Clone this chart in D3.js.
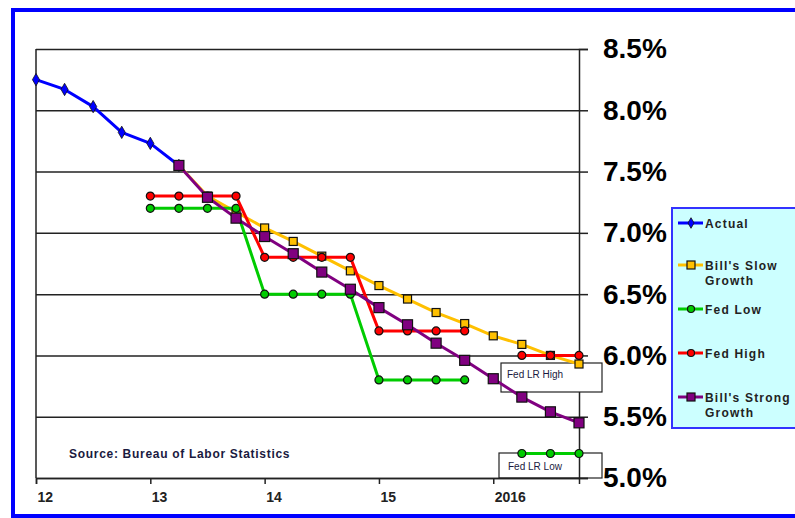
<!DOCTYPE html>
<html>
<head>
<meta charset="utf-8">
<script src="https://cdn.jsdelivr.net/npm/d3@7"></script>
<style>
  body { margin: 0; background: #fff; }
  svg { display: block; font-family: "Liberation Sans", Arial, sans-serif; }
</style>
</head>
<body>
<script>
// quarters (year fractions) shared by every series
var quarters = [2012, 2012.25, 2012.5, 2012.75,
                2013, 2013.25, 2013.5, 2013.75,
                2014, 2014.25, 2014.5, 2014.75,
                2015, 2015.25, 2015.5, 2015.75,
                2016, 2016.25, 2016.5, 2016.75];

// unemployment rate, %
var actual     = [8.25, 8.17, 8.03, 7.82, 7.73, 7.55, null, null, null, null, null, null, null, null, null, null, null, null, null, null];
var slowGrowth = [null, null, null, null, null, 7.55, 7.30, 7.17, 7.04, 6.93, 6.81, 6.69, 6.57, 6.46, 6.35, 6.26, 6.16, 6.09, 6.00, 5.93];
var fedLow     = [null, null, null, null, 7.2, 7.2, 7.2, 7.2, 6.5, 6.5, 6.5, 6.5, 5.8, 5.8, 5.8, 5.8, null, 5.2, 5.2, 5.2];
var fedHigh    = [null, null, null, null, 7.3, 7.3, 7.3, 7.3, 6.8, 6.8, 6.8, 6.8, 6.2, 6.2, 6.2, 6.2, null, 6.0, 6.0, 6.0];
var strongGrowth = [null, null, null, null, null, 7.55, 7.29, 7.12, 6.97, 6.83, 6.68, 6.54, 6.39, 6.25, 6.10, 5.96, 5.81, 5.66, 5.54, 5.45];

var yTicks = [5.0, 5.5, 6.0, 6.5, 7.0, 7.5, 8.0, 8.5];
var xTicks = [2012, 2013, 2014, 2015, 2016];
var xTickLabels = ["12", "13", "14", "15", "2016"];

var seriesNames = ["Actual", "Bill's Slow|Growth", "Fed Low", "Fed High", "Bill's Strong|Growth"];

var series = [
  {name: seriesNames[0], values: actual,       color: "#0000ff", marker: "diamond", size: 7},
  {name: seriesNames[1], values: slowGrowth,   color: "#ffc000", marker: "square",  size: 8},
  {name: seriesNames[2], values: fedLow,       color: "#00cc00", marker: "circle",  size: 4},
  {name: seriesNames[3], values: fedHigh,      color: "#ff0000", marker: "circle",  size: 4},
  {name: seriesNames[4], values: strongGrowth, color: "#800080", marker: "square",  size: 10}
];

var width = 795, height = 518;
var plot = {left: 36, right: 579, top: 49, bottom: 478};

var svg = d3.select("body").append("svg")
    .attr("width", width)
    .attr("height", height);

// blue frame round the whole chart
svg.append("rect")
    .attr("x", 13).attr("y", 10)
    .attr("width", 800).attr("height", 506)
    .attr("fill", "#fff")
    .attr("stroke", "#0000ff")
    .attr("stroke-width", 4);

var x = d3.scaleLinear().domain([2012, 2016.75]).range([plot.left, plot.right]);
var y = d3.scaleLinear().domain([5, 8.5]).range([plot.bottom, plot.top]);

// gridlines
svg.append("g")
    .attr("transform", "translate(" + plot.left + ",0)")
    .call(d3.axisLeft(y).tickValues(yTicks).tickSize(-(plot.right - plot.left)).tickFormat(""))
    .call(function(g) {
      g.select(".domain").remove();
      g.selectAll("line").attr("stroke", "#222").attr("stroke-width", 1.5);
    });

// left border of plot
svg.append("line")
    .attr("x1", plot.left).attr("x2", plot.left)
    .attr("y1", plot.top).attr("y2", plot.bottom)
    .attr("stroke", "#222").attr("stroke-width", 1.5);

// right axis with the big labels
svg.append("g")
    .attr("transform", "translate(" + plot.right + ",0)")
    .call(d3.axisRight(y).tickValues(yTicks).tickSize(9).tickPadding(15)
      .tickFormat(function(d) { return d3.format(".1f")(d) + "%"; }))
    .call(function(g) {
      g.select(".domain").attr("stroke", "#222").attr("stroke-width", 1.5);
      g.selectAll("line").attr("stroke", "#222").attr("stroke-width", 1.5);
      g.selectAll("text")
        .attr("fill", "#000")
        .style("font-size", "28px")
        .style("font-weight", "bold");
    });

// bottom axis
svg.append("g")
    .attr("transform", "translate(0," + plot.bottom + ")")
    .call(d3.axisBottom(x).tickValues(xTicks).tickSize(6).tickPadding(8)
      .tickFormat(function(d, i) { return xTickLabels[i]; }))
    .call(function(g) {
      g.select(".domain").attr("stroke", "#222").attr("stroke-width", 1.5);
      g.selectAll("line").attr("stroke", "#222").attr("stroke-width", 1.5);
      g.selectAll("text")
        .attr("text-anchor", "start")
        .attr("dx", 1)
        .attr("fill", "#222")
        .style("font-size", "14px")
        .style("font-weight", "bold");
    });

// Fed LR boxes
svg.append("rect")
    .attr("x", 501).attr("y", 363).attr("width", 101).attr("height", 29)
    .attr("fill", "#fff").attr("stroke", "#222").attr("stroke-width", 1.2);
svg.append("text")
    .attr("x", 507).attr("y", 378)
    .attr("fill", "#1a1a40")
    .style("font-size", "10px")
    .text("Fed LR High");

svg.append("rect")
    .attr("x", 499).attr("y", 453).attr("width", 103).attr("height", 25)
    .attr("fill", "none").attr("stroke", "#222").attr("stroke-width", 1.2);
svg.append("text")
    .attr("x", 508).attr("y", 470)
    .attr("fill", "#1a1a40")
    .style("font-size", "10px")
    .text("Fed LR Low");

// source note
svg.append("text")
    .attr("x", 69).attr("y", 458)
    .attr("fill", "#1a1a40")
    .style("font-size", "12px")
    .style("font-weight", "bold")
    .style("letter-spacing", "0.7px")
    .text("Source:  Bureau of Labor Statistics");

function drawMarker(sel, s) {
  if (s.marker === "circle") {
    sel.append("circle").attr("r", s.size);
  } else if (s.marker === "square") {
    sel.append("rect")
      .attr("x", -s.size / 2).attr("y", -s.size / 2)
      .attr("width", s.size).attr("height", s.size);
  } else {
    sel.append("path").attr("d", d3.symbol(d3.symbolDiamond, s.size * s.size * 0.9)());
  }
  sel.selectAll("*")
    .attr("fill", s.color)
    .attr("stroke", "#111")
    .attr("stroke-width", s.marker === "diamond" ? 0.8 : 1.2);
}

// draw order: slow, low, high, actual, strong on top
var order = [1, 2, 3, 0, 4];
var line = d3.line()
    .defined(function(d) { return d.v !== null; })
    .x(function(d) { return x(d.q); })
    .y(function(d) { return y(d.v); });

order.forEach(function(k) {
  var s = series[k];
  var pts = quarters.map(function(q, i) { return {q: q, v: s.values[i]}; });
  svg.append("path")
      .datum(pts)
      .attr("fill", "none")
      .attr("stroke", s.color)
      .attr("stroke-width", 3)
      .attr("stroke-linejoin", "round")
      .attr("d", line);
  svg.append("g").selectAll("g")
      .data(pts.filter(function(d) { return d.v !== null; }))
    .enter().append("g")
      .attr("transform", function(d) { return "translate(" + x(d.q) + "," + y(d.v) + ")"; })
      .each(function() { drawMarker(d3.select(this), s); });
});

// legend
var legend = svg.append("g");
legend.append("rect")
    .attr("x", 672).attr("y", 208).attr("width", 140).attr("height", 220)
    .attr("fill", "#ccffff")
    .attr("stroke", "#3333ff")
    .attr("stroke-width", 2);

var legendY = [223, 265, 309, 353, 397];
series.forEach(function(s, i) {
  var g = legend.append("g").attr("transform", "translate(0," + legendY[i] + ")");
  g.append("line")
      .attr("x1", 678).attr("x2", 703)
      .attr("stroke", s.color).attr("stroke-width", 3);
  var m = g.append("g").attr("transform", "translate(691,0)");
  drawMarker(m, {marker: s.marker, color: s.color,
                 size: s.marker === "circle" ? 3.5 : (s.marker === "square" ? 8 : 6)});
  var parts = s.name.split("|");
  parts.forEach(function(p, j) {
    g.append("text")
        .attr("x", 705).attr("y", j * 15 + 4.5)
        .attr("fill", "#222")
        .style("font-size", "12px")
        .style("font-weight", "bold")
        .style("letter-spacing", "1.2px")
        .text(p);
  });
});
</script>
</body>
</html>
